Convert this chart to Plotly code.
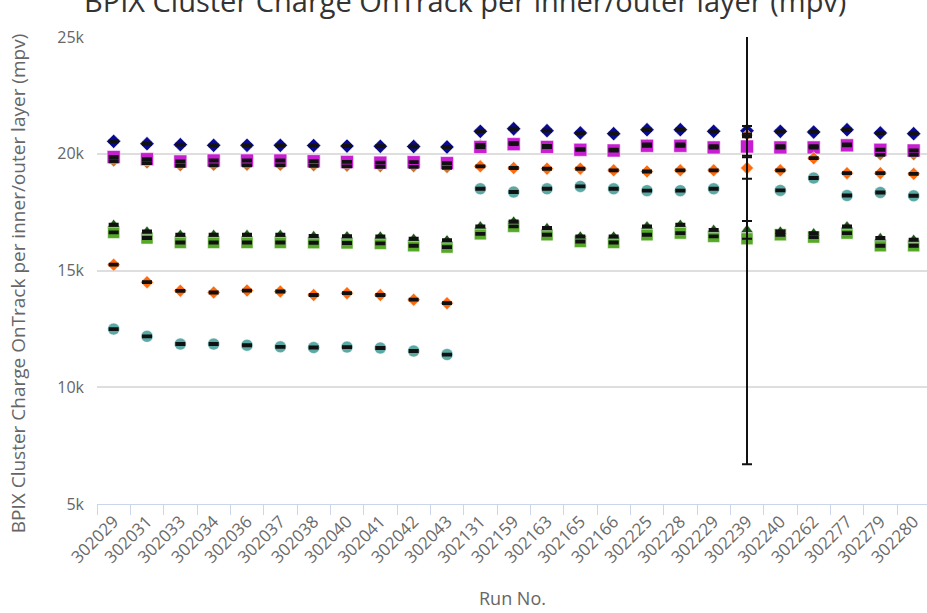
import plotly.graph_objects as go

# Run numbers on the x axis
runs = ["302029", "302031", "302033", "302034", "302036", "302037", "302038",
        "302040", "302041", "302042", "302043", "302131", "302159", "302163",
        "302165", "302166", "302225", "302228", "302229", "302239", "302240",
        "302262", "302277", "302279", "302280"]

# Most probable cluster charge per layer (electrons)
layer_a = [20530, 20430, 20390, 20360, 20360, 20360, 20350, 20330, 20320, 20310, 20290,
           20960, 21070, 20990, 20890, 20860, 21030, 21030, 20960, 20990, 20960, 20930,
           21030, 20890, 20860]
layer_b = [19680, 19600, 19480, 19500, 19500, 19500, 19480, 19460, 19440, 19440, 19400,
           20380, 20460, 20330, 20200, 20170, 20400, 20400, 20320, 20800, 20320, 20320,
           20400, 19950, 19950]
layer_c = [19860, 19770, 19670, 19710, 19710, 19710, 19680, 19650, 19620, 19640, 19600,
           20290, 20410, 20290, 20170, 20140, 20340, 20340, 20270, 20310, 20270, 20270,
           20360, 20170, 20140]
layer_d = [15250, 14500, 14130, 14060, 14140, 14100, 13950, 14030, 13950, 13750, 13600,
           19460, 19390, 19360, 19360, 19290, 19240, 19290, 19290, 19390, 19290, 19810,
           19170, 19170, 19140]
layer_e = [12490, 12180, 11850, 11850, 11800, 11730, 11700, 11720, 11680, 11550, 11400,
           18500, 18360, 18500, 18600, 18500, 18420, 18420, 18500, None, 18430, 18960,
           18210, 18340, 18200]
layer_f = [16630, 16390, 16200, 16200, 16200, 16200, 16190, 16180, 16160, 16060, 16000,
           16570, 16890, 16530, 16240, 16200, 16530, 16600, 16460, 16360, 16530, 16430,
           16600, 16060, 16060]
layer_g = [16960, 16670, 16530, 16530, 16530, 16530, 16480, 16470, 16460, 16360, 16300,
           16890, 17100, 16820, 16460, 16460, 16890, 16960, 16740, 16740, 16670, 16600,
           16890, 16390, 16320]

# Uncertainties: small everywhere except run 302239
err_a = [40] * 19 + [200] + [40] * 5
err_b = [40] * 19 + [60] + [40] * 5
err_c = [40] * 19 + [400] + [40] * 5
err_d = [40] * 19 + [460] + [40] * 5
err_e = [40] * 25
err_f = [40] * 19 + [9660] + [40] * 5
err_g = [40] * 19 + [380] + [40] * 5

series = [
    ("Layer 4 outer", layer_a, err_a, "diamond", "#0a0a8f", 11),
    ("Layer 4 inner", layer_b, err_b, "diamond", "#c8742e", 9),
    ("Layer 3 outer", layer_c, err_c, "square", "#c81ed2", 13),
    ("Layer 1 inner", layer_d, err_d, "diamond", "#ff6a0d", 10),
    ("Layer 1 outer", layer_e, err_e, "circle", "#5aa9a5", 12),
    ("Layer 2 inner", layer_f, err_f, "square", "#55a828", 12),
    ("Layer 2 outer", layer_g, err_g, "triangle-up", "#1e5a16", 11),
]

FONT = "Open Sans"
fig = go.Figure()

# markers
for name, vals, err, sym, col, size in series:
    fig.add_trace(go.Scatter(
        x=runs, y=vals, mode="markers", name=name,
        marker=dict(symbol=sym, color=col, size=size,
                    line=dict(width=1, color="rgba(255,255,255,0.5)")),
        showlegend=False,
    ))

# error bars on top of the markers
for name, vals, err, sym, col, size in series:
    fig.add_trace(go.Scatter(
        x=runs, y=vals, mode="markers", name=name + " error",
        marker=dict(color="rgba(0,0,0,0)", size=1),
        error_y=dict(type="data", array=err, visible=True,
                     color="#111111", thickness=2, width=5),
        showlegend=False, hoverinfo="skip",
    ))

fig.update_layout(
    width=927, height=613,
    margin=dict(l=97, r=0, t=37, b=109),
    paper_bgcolor="white", plot_bgcolor="white",
    font=dict(family=FONT, color="#666666"),
    xaxis=dict(
        type="category", categoryorder="array", categoryarray=runs,
        range=[-0.5, 24.4], tickson="boundaries",
        tickangle=-45, tickfont=dict(size=17, color="#6a6a6a"),
        ticks="outside", ticklen=10, tickcolor="#ccd6eb", tickwidth=1,
        showline=True, linecolor="#ccd6eb", linewidth=1,
        showgrid=False, zeroline=False,
    ),
    yaxis=dict(
        range=[5000, 25000],
        tickvals=[5000, 10000, 15000, 20000, 25000],
        ticktext=["5k", "10k", "15k", "20k", "25k"],
        tickfont=dict(size=16, color="#666666"),
        showgrid=True, gridcolor="#dedede", gridwidth=1.5,
        zeroline=False, showline=False, ticks="", ticklabelstandoff=12,
    ),
    annotations=[
        dict(text="BPIX Cluster Charge OnTrack per inner/outer layer (mpv)",
             xref="paper", yref="paper", x=0.443, y=1.079,
             xanchor="center", yanchor="middle", showarrow=False,
             font=dict(family=FONT, size=29, color="#333333")),
        dict(text="BPIX Cluster Charge OnTrack per inner/outer layer (mpv)",
             xref="paper", yref="paper", x=-0.095, y=0.473, textangle=-90,
             xanchor="center", yanchor="middle", showarrow=False,
             font=dict(family=FONT, size=19, color="#666666")),
        dict(text="Run No.", xref="paper", yref="paper", x=0.5, y=-0.201,
             xanchor="center", yanchor="middle", showarrow=False,
             font=dict(family=FONT, size=18, color="#666666")),
    ],
)

fig.write_html("out.html")
